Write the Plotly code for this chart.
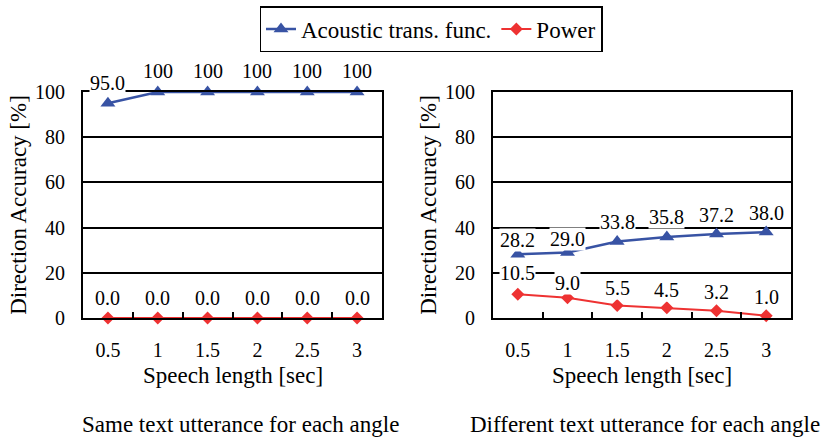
import plotly.graph_objects as go

# Speech lengths (sec) used as category labels on both panels
lengths = ["0.5", "1", "1.5", "2", "2.5", "3"]

# Direction accuracy [%] — same text utterance for each angle
same_acoustic = [95.0, 100, 100, 100, 100, 100]
same_power = [0.0, 0.0, 0.0, 0.0, 0.0, 0.0]

# Direction accuracy [%] — different text utterance for each angle
diff_acoustic = [28.2, 29.0, 33.8, 35.8, 37.2, 38.0]
diff_power = [10.5, 9.0, 5.5, 4.5, 3.2, 1.0]

series_names = ["Acoustic trans. func.", "Power"]
panel_titles = ["Same text utterance for each angle",
                "Different text utterance for each angle"]
x_title = "Speech length [sec]"
y_title = "Direction Accuracy [%]"

# label formatting per value
def fmt(v):
    return "100" if v == 100 else f"{v:.1f}"

# vertical offsets (px) of value labels above their points
same_ac_shift = [20, 21, 21, 21, 21, 21]
same_pw_shift = [20, 20, 20, 20, 20, 20]
diff_ac_shift = [14, 13, 20, 20, 19, 19]
diff_pw_shift = [21, 15, 18, 18, 19, 19]

BLUE = "#3853A4"
RED = "#EE3232"
FONT = "'Liberation Serif', 'Times New Roman', 'DejaVu Serif', serif"
W, H = 825, 441

fig = go.Figure()

panels = [
    ("x", "y", same_acoustic, same_power, same_ac_shift, same_pw_shift, True),
    ("x2", "y2", diff_acoustic, diff_power, diff_ac_shift, diff_pw_shift, False),
]

annotations = []
for xa, ya, ac, pw, ac_sh, pw_sh, show in panels:
    fig.add_trace(go.Scatter(
        x=lengths, y=ac, xaxis=xa, yaxis=ya, mode="lines+markers",
        name=series_names[0], showlegend=show, cliponaxis=False,
        line=dict(color=BLUE, width=2.5),
        marker=dict(symbol="triangle-up", size=13, color=BLUE),
    ))
    fig.add_trace(go.Scatter(
        x=lengths, y=pw, xaxis=xa, yaxis=ya, mode="lines+markers",
        name=series_names[1], showlegend=show, cliponaxis=False,
        line=dict(color=RED, width=2),
        marker=dict(symbol="diamond", size=10, color=RED),
    ))
    # value labels, placed by category index on the same axes
    for vals, shifts in ((ac, ac_sh), (pw, pw_sh)):
        for i, (v, s) in enumerate(zip(vals, shifts)):
            annotations.append(dict(
                x=i, y=v, xref=xa, yref=ya, text=fmt(v), showarrow=False,
                yshift=s, yanchor="middle", bgcolor="white", borderpad=0,
                font=dict(family=FONT, size=20, color="black"),
            ))

ydom = [1 - 318 / H, 1 - 92 / H]
xdoms = [[83 / W, 382 / W], [493 / W, 791 / W]]

# x-axis titles sit tight under the tick labels
for dom in xdoms:
    annotations.append(dict(
        x=(dom[0] + dom[1]) / 2, y=1 - 375 / H, xref="paper", yref="paper",
        text=x_title, showarrow=False, xanchor="center", yanchor="middle",
        font=dict(family=FONT, size=23, color="black"),
    ))

# panel captions below the charts
for cx, t in zip((240 / W, 645 / W), panel_titles):
    annotations.append(dict(
        x=cx, y=1 - 424 / H, xref="paper", yref="paper", text=t,
        showarrow=False, xanchor="center", yanchor="middle",
        font=dict(family=FONT, size=23, color="black"),
    ))

xaxis_style = dict(
    type="category", range=[-0.5, 5.5], showgrid=False, zeroline=False,
    showline=True, mirror=True, linecolor="black", linewidth=2,
    ticks="inside", tickson="boundaries", ticklen=6, tickwidth=1.5,
    tickcolor="black", ticklabelstandoff=13,
    tickfont=dict(family=FONT, size=20, color="black"),
    automargin=False,
)
yaxis_style = dict(
    range=[0, 100], dtick=20, showgrid=True, gridcolor="black", gridwidth=1.5,
    zeroline=False, showline=True, mirror=True, linecolor="black", linewidth=2,
    ticks="", ticklabelstandoff=12,
    tickfont=dict(family=FONT, size=20, color="black"),
    title=dict(text=y_title, standoff=2,
               font=dict(family=FONT, size=23, color="black")),
    automargin=False,
)

fig.update_layout(
    width=W, height=H,
    margin=dict(l=0, r=0, t=0, b=0),
    paper_bgcolor="white", plot_bgcolor="white",
    font=dict(family=FONT, color="black"),
    xaxis=dict(domain=xdoms[0], anchor="y", **xaxis_style),
    yaxis=dict(domain=ydom, anchor="x", **yaxis_style),
    xaxis2=dict(domain=xdoms[1], anchor="y2", **xaxis_style),
    yaxis2=dict(domain=ydom, anchor="x2", **yaxis_style),
    legend=dict(
        orientation="h", x=431 / W, y=1 - 6 / H, xanchor="center",
        yanchor="top", bordercolor="black", borderwidth=1.5,
        bgcolor="white", font=dict(family=FONT, size=23, color="black"),
        tracegroupgap=0, itemwidth=30,
    ),
    annotations=annotations,
    showlegend=True,
)

fig.write_html("out.html")
